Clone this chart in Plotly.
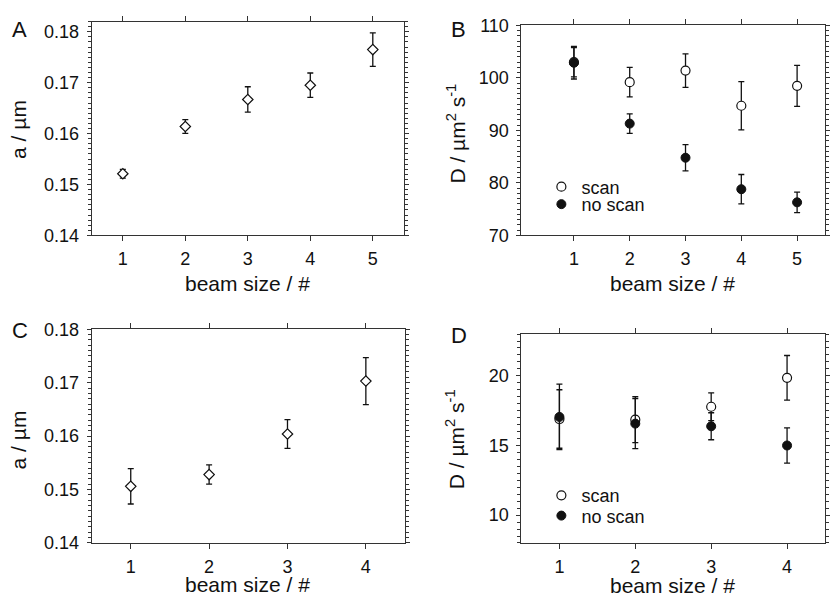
import plotly.graph_objects as go

W, H = 830, 612

# ---------------- data ----------------
beam5 = [1, 2, 3, 4, 5]
beam4 = [1, 2, 3, 4]

a_A = [0.1521, 0.1614, 0.1667, 0.1695, 0.1765]
a_A_err = [0.00085, 0.00136, 0.0025, 0.0024, 0.0033]

D_B_scan = [103.0, 99.2, 101.4, 94.7, 98.5]
D_B_scan_err = [2.8, 2.8, 3.2, 4.6, 3.9]
D_B_noscan = [102.9, 91.3, 84.8, 78.8, 76.3]
D_B_noscan_err = [3.1, 1.85, 2.5, 2.8, 1.95]

a_C = [0.1506, 0.1528, 0.1604, 0.1703]
a_C_err = [0.0033, 0.0018, 0.0027, 0.0044]

D_D_scan = [16.9, 16.85, 17.78, 19.86]
D_D_scan_err = [2.1, 1.65, 1.0, 1.6]
D_D_noscan = [17.05, 16.57, 16.38, 15.0]
D_D_noscan_err = [2.35, 1.8, 0.97, 1.26]

series_names = ["scan", "no scan"]
panel_labels = ["A", "B", "C", "D"]
x_title = "beam size / #"
a_title = "a / µm"
D_title = "D / µm<sup>2</sup> s<sup>-1</sup>"

FONT = "Liberation Sans, Arial, Helvetica, sans-serif"
INK = "#111111"
AX = "#333333"

def px_x(p):
    return p / W

def px_y(p):
    return 1 - p / H

def err(arr):
    return dict(type="data", array=arr, visible=True, color=INK, thickness=1.3, width=3)

open_c = dict(symbol="circle", size=9, color="white", line=dict(color=INK, width=1.2))
fill_c = dict(symbol="circle", size=9, color=INK, line=dict(color=INK, width=1))
diam = dict(symbol="diamond", size=8, color="white", line=dict(color=INK, width=1.2))

fig = go.Figure()
fig.add_trace(go.Scatter(x=beam5, y=a_A, mode="markers", error_y=err(a_A_err), marker=diam,
                         xaxis="x", yaxis="y", showlegend=False))
fig.add_trace(go.Scatter(x=beam5, y=D_B_scan, mode="markers", error_y=err(D_B_scan_err),
                         name=series_names[0], marker=open_c, xaxis="x2", yaxis="y2", legend="legend"))
fig.add_trace(go.Scatter(x=beam5, y=D_B_noscan, mode="markers", error_y=err(D_B_noscan_err),
                         name=series_names[1], marker=fill_c, xaxis="x2", yaxis="y2", legend="legend2"))
fig.add_trace(go.Scatter(x=beam4, y=a_C, mode="markers", error_y=err(a_C_err), marker=diam,
                         xaxis="x3", yaxis="y3", showlegend=False))
fig.add_trace(go.Scatter(x=beam4, y=D_D_scan, mode="markers", error_y=err(D_D_scan_err),
                         name=series_names[0], marker=open_c, xaxis="x4", yaxis="y4", legend="legend3"))
fig.add_trace(go.Scatter(x=beam4, y=D_D_noscan, mode="markers", error_y=err(D_D_noscan_err),
                         name=series_names[1], marker=fill_c, xaxis="x4", yaxis="y4", legend="legend4"))

def xaxis(dom, rng, anchor, vals):
    return dict(domain=dom, range=rng, anchor=anchor, showline=True, linecolor=AX, linewidth=1,
                mirror="allticks", ticks="outside", ticklen=5, tickcolor=AX, tickwidth=1,
                tickvals=vals, showgrid=False, zeroline=False,
                tickfont=dict(family=FONT, size=18, color=INK), ticklabelstandoff=2)

def yaxis(dom, rng, anchor, dtick, minor_dtick, fmt):
    return dict(domain=dom, range=rng, anchor=anchor, showline=True, linecolor=AX, linewidth=1,
                mirror="allticks", ticks="outside", ticklen=4, tickcolor=AX, tickwidth=1,
                dtick=dtick, tick0=0, tickformat=fmt, showgrid=False, zeroline=False,
                minor=dict(dtick=minor_dtick, ticks="outside", ticklen=3, tickcolor=AX, showgrid=False),
                tickfont=dict(family=FONT, size=18, color=INK), ticklabelstandoff=4)

boxA = (92, 406, 12, 233)
boxB = (524, 829, 16, 233)
boxC = (92, 407, 330, 551)
boxD = (524, 829, 335, 551)

def dom(box):
    l, r, t, b = box
    return [px_x(l), px_x(r)], [px_y(b), px_y(t)]

dAx, dAy = dom(boxA)
dBx, dBy = dom(boxB)
dCx, dCy = dom(boxC)
dDx, dDy = dom(boxD)

def leg(x, y):
    return dict(x=px_x(x), y=px_y(y), xanchor="left", yanchor="middle",
                bgcolor="rgba(0,0,0,0)", font=dict(family=FONT, size=18, color=INK),
                itemwidth=30, tracegroupgap=0)

fig.update_layout(
    width=W, height=H, margin=dict(l=0, r=0, t=0, b=0),
    paper_bgcolor="white", plot_bgcolor="white",
    font=dict(family=FONT, color=INK),
    xaxis=xaxis(dAx, [0.5, 5.5], "y", beam5),
    yaxis=yaxis(dAy, [0.14, 0.182], "x", 0.01, 0.001, ".2f"),
    xaxis2=xaxis(dBx, [0.06, 5.5], "y2", beam5),
    yaxis2=yaxis(dBy, [70, 110], "x2", 10, 1, "d"),
    xaxis3=xaxis(dCx, [0.5, 4.5], "y3", beam4),
    yaxis3=yaxis(dCy, [0.14, 0.18], "x3", 0.01, 0.001, ".2f"),
    xaxis4=xaxis(dDx, [0.5, 4.5], "y4", beam4),
    yaxis4=yaxis(dDy, [8, 23], "x4", 5, 0.5, "d"),
    legend=leg(544, 183), legend2=leg(544, 201),
    legend3=leg(544, 502), legend4=leg(544, 523),
)

annots = []
for lab, (x, y) in zip(panel_labels, [(20, 20), (461, 20), (20, 331), (461, 336)]):
    annots.append(dict(text=lab, x=px_x(x), y=px_y(y), xref="paper", yref="paper",
                       showarrow=False, font=dict(family=FONT, size=22, color=INK),
                       xanchor="center", yanchor="middle"))
for (x, y) in [(249, 283), (676, 283), (249, 594), (676, 595)]:
    annots.append(dict(text=x_title, x=px_x(x), y=px_y(y), xref="paper", yref="paper",
                       showarrow=False, font=dict(family=FONT, size=21, color=INK),
                       xanchor="center", yanchor="middle"))
for (txt, x, y) in [(a_title, 19, 123), (D_title, 458, 128), (a_title, 19, 444), (D_title, 458, 444)]:
    annots.append(dict(text=txt, x=px_x(x), y=px_y(y), xref="paper", yref="paper",
                       showarrow=False, textangle=-90, font=dict(family=FONT, size=21, color=INK),
                       xanchor="center", yanchor="middle"))
fig.update_layout(annotations=annots)

fig.write_html("out.html", config={"displayModeBar": False},
               post_script="document.body.style.margin='0';document.body.style.overflow='hidden';")
